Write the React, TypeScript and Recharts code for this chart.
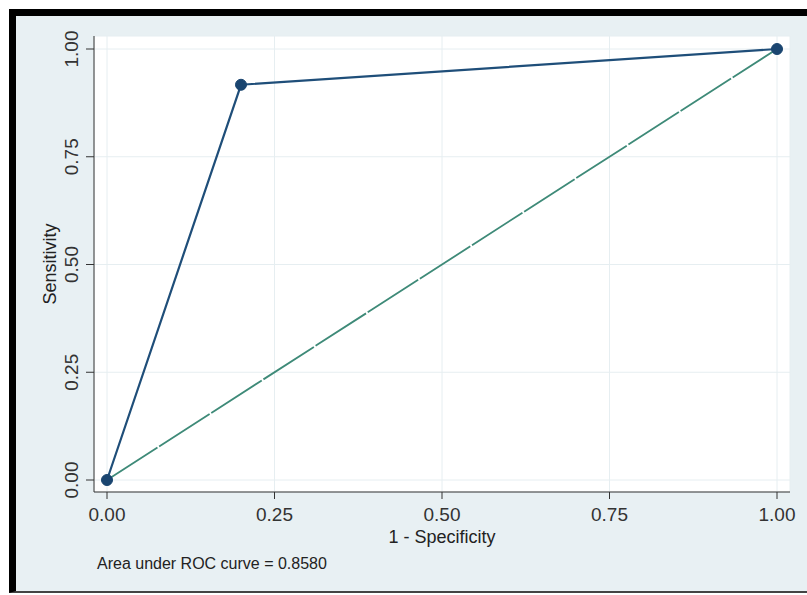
import { LineChart, Line, XAxis, YAxis, CartesianGrid } from 'recharts';

// ROC curve points (1 - specificity, sensitivity)
const fpr = [0, 0.2, 1];
const tpr = [0, 0.917, 1];
// reference diagonal
const refX = [0, 1];
const refY = [0, 1];
const ticks = [0, 0.25, 0.5, 0.75, 1];
const aucText = 'Area under ROC curve = 0.8580';

const rocData = fpr.map((x, i) => ({ x, roc: tpr[i] }));
const refData = refX.map((x, i) => ({ x, ref: refY[i] }));

const FONT = '"Liberation Sans", Arial, sans-serif';

const YTick = (props: any) => {
    const { x, y, payload } = props;
    const bx = x - 6;
    return (
        <text
            x={bx}
            y={y}
            transform={`rotate(-90 ${bx} ${y})`}
            textAnchor="middle"
            fontSize={19}
            fontFamily={FONT}
            fill="#333"
        >
            {Number(payload.value).toFixed(2)}
        </text>
    );
};

export default function App() {
    return (
        <div style={{ position: 'absolute', left: 0, top: 0, width: 807, height: 595, background: '#fff' }}>
            <div
                style={{
                    position: 'absolute',
                    left: 9,
                    top: 9,
                    width: 798,
                    height: 584,
                    boxSizing: 'border-box',
                    background: '#e8f0f3',
                    borderTop: '7px solid #000',
                    borderLeft: '7px solid #000',
                    borderBottom: '2px solid #444',
                }}
            />
            <div style={{ position: 'absolute', left: 0, top: 0 }}>
                <LineChart width={807} height={595} margin={{ top: 36, right: 17, left: 34, bottom: 53 }}>
                    <CartesianGrid stroke="#e6eef1" fill="#fff" ticks={ticks} />
                    <XAxis
                        type="number"
                        dataKey="x"
                        domain={[0, 1]}
                        ticks={ticks}
                        padding={{ left: 13, right: 13 }}
                        height={50}
                        stroke="#333"
                        tickSize={7}
                        tickMargin={9}
                        tickFormatter={(v: number) => v.toFixed(2)}
                        tick={{ fill: '#333', fontSize: 19, fontFamily: FONT }}
                        label={{
                            content: (p: any) => (
                                <text
                                    x={p.viewBox.x + p.viewBox.width / 2}
                                    y={p.viewBox.y + 51}
                                    textAnchor="middle"
                                    fontSize={18}
                                    fontFamily={FONT}
                                    fill="#222"
                                >
                                    1 - Specificity
                                </text>
                            ),
                        }}
                    />
                    <YAxis
                        type="number"
                        domain={[0, 1]}
                        ticks={ticks}
                        padding={{ top: 13, bottom: 12 }}
                        width={60}
                        stroke="#333"
                        tickSize={8}
                        tick={<YTick />}
                        label={{
                            content: (p: any) => {
                                const cx = p.viewBox.x + 22;
                                const cy = p.viewBox.y + p.viewBox.height / 2;
                                return (
                                    <text
                                        x={cx}
                                        y={cy}
                                        transform={`rotate(-90 ${cx} ${cy})`}
                                        textAnchor="middle"
                                        fontSize={18}
                                        fontFamily={FONT}
                                        fill="#222"
                                    >
                                        Sensitivity
                                    </text>
                                );
                            },
                        }}
                    />
                    <Line
                        data={refData}
                        dataKey="ref"
                        type="linear"
                        stroke="#3e8a78"
                        strokeWidth={1.8}
                        strokeDasharray="60 2"
                        dot={false}
                        activeDot={false}
                        isAnimationActive={false}
                    />
                    <Line
                        data={rocData}
                        dataKey="roc"
                        type="linear"
                        stroke="#1f4e79"
                        strokeWidth={2.2}
                        dot={{ r: 5.5, fill: '#1a4570', stroke: '#1a4570', strokeWidth: 1 }}
                        activeDot={false}
                        isAnimationActive={false}
                    />
                </LineChart>
            </div>
            <div
                style={{
                    position: 'absolute',
                    left: 97,
                    top: 555,
                    fontSize: 16,
                    fontFamily: FONT,
                    color: '#222',
                    whiteSpace: 'nowrap',
                    lineHeight: '18px',
                }}
            >
                {aucText}
            </div>
        </div>
    );
}
